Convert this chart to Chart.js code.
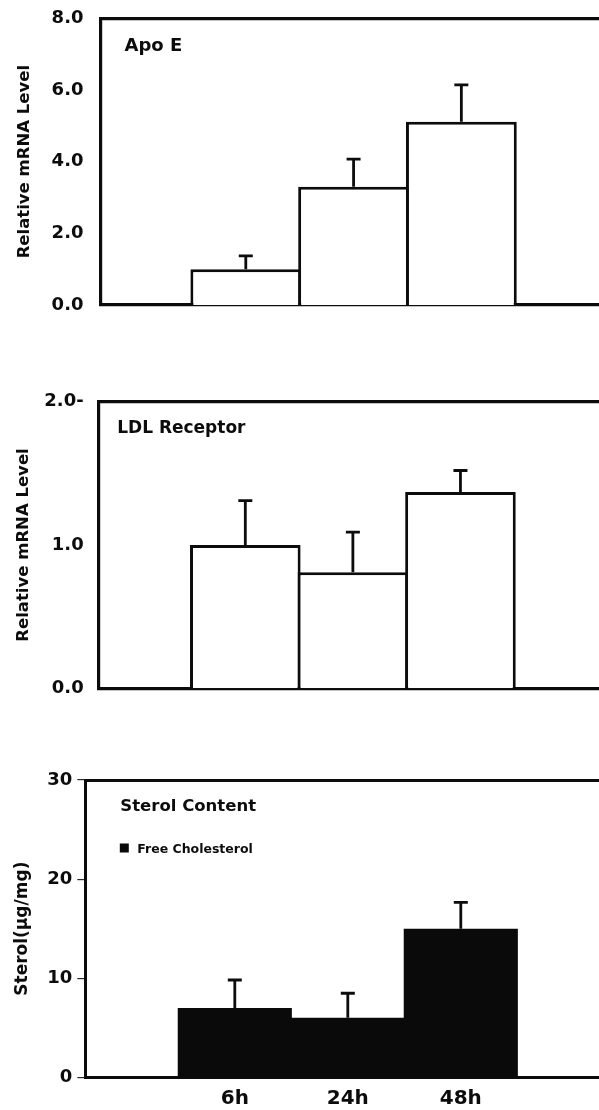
<!DOCTYPE html>
<html>
<head>
<meta charset="utf-8">
<script src="https://cdn.jsdelivr.net/npm/chart.js@4/dist/chart.umd.min.js"></script>
<style>
  html, body { margin: 0; padding: 0; background: #fff; overflow: hidden; }
  canvas { position: absolute; left: 0; }
</style>
</head>
<body>
<canvas id="apoe" width="599" height="330" style="top:0px"></canvas>
<canvas id="ldlr" width="599" height="340" style="top:370px"></canvas>
<canvas id="sterol" width="599" height="370" style="top:740px"></canvas>
<script>
// Time points after treatment
const timePoints = ['6h', '24h', '48h'];

// Apo E relative mRNA level (mean and SD)
const apoEValues = [1.0, 3.30, 5.11];
const apoEErrors = [0.37, 0.77, 1.03];
const apoETicks = ['0.0', '2.0', '4.0', '6.0', '8.0'];

// LDL receptor relative mRNA level (mean and SD)
const ldlrValues = [1.0, 0.81, 1.37];
const ldlrErrors = [0.31, 0.28, 0.15];
const ldlrTicks = ['0.0', '1.0', '2.0-'];

// Free cholesterol content, µg sterol per mg protein (mean and SD)
const cholValues = [7.0, 6.0, 15.0];
const cholErrors = [2.82, 2.48, 2.65];
const cholTicks = ['0', '10', '20', '30'];

const panelTitles = ['Apo E', 'LDL Receptor', 'Sterol Content'];
const mrnaAxisTitle = 'Relative mRNA Level';
const sterolAxisTitle = 'Sterol(µg/mg)';
const cholSeriesName = 'Free Cholesterol';

const INK = '#0c0c0c';
Chart.defaults.font.family = "'DejaVu Sans', 'Liberation Sans', sans-serif";
Chart.defaults.font.weight = 'bold';
Chart.defaults.color = INK;

// Upward SD whiskers with a cap, drawn from each bar top
const errorBarPlugin = {
  id: 'errorBars',
  afterDatasetsDraw(chart, args, opts) {
    const ctx = chart.ctx;
    const yScale = chart.scales.y;
    const meta = chart.getDatasetMeta(0);
    const data = chart.data.datasets[0].data;
    ctx.save();
    ctx.strokeStyle = opts.color;
    ctx.lineWidth = opts.width;
    ctx.lineCap = 'butt';
    meta.data.forEach((bar, i) => {
      const v = data[i].y;
      const yTop = yScale.getPixelForValue(v + opts.values[i]);
      ctx.beginPath();
      ctx.moveTo(bar.x, bar.y);
      ctx.lineTo(bar.x, yTop);
      ctx.moveTo(bar.x - opts.cap, yTop);
      ctx.lineTo(bar.x + opts.cap, yTop);
      ctx.stroke();
    });
    ctx.restore();
  }
};

// Panel heading and optional legend key inside the plot frame
const panelTextPlugin = {
  id: 'panelText',
  afterDraw(chart, args, opts) {
    const ctx = chart.ctx;
    const area = chart.chartArea;
    ctx.save();
    ctx.fillStyle = INK;
    ctx.textBaseline = 'alphabetic';
    ctx.textAlign = 'left';
    ctx.font = `bold ${opts.size}px 'DejaVu Sans'`;
    ctx.fillText(opts.text, area.left + opts.dx, area.top + opts.dy);
    if (opts.legend) {
      const ds = chart.data.datasets[0];
      const L = opts.legend;
      ctx.fillStyle = ds.backgroundColor;
      ctx.fillRect(area.left + L.boxX, area.top + L.boxY, L.box, L.box);
      ctx.fillStyle = INK;
      ctx.font = `bold ${L.size}px 'DejaVu Sans'`;
      ctx.fillText(ds.label, area.left + L.textX, area.top + L.textY);
    }
    ctx.restore();
  }
};

function panelConfig(p) {
  return {
    type: 'bar',
    data: {
      datasets: [{
        label: p.label,
        data: p.values.map((v, i) => ({ x: i + 1, y: v })),
        backgroundColor: p.fill,
        borderColor: INK,
        borderWidth: p.barBorder,
        borderSkipped: 'start',
        barPercentage: p.barPct,
        categoryPercentage: 1
      }]
    },
    options: {
      responsive: false,
      animation: false,
      devicePixelRatio: 1,
      layout: { padding: { left: p.padLeft, top: p.padTop, right: 0, bottom: p.padBottom } },
      plugins: {
        legend: { display: false },
        tooltip: { enabled: false },
        errorBars: { values: p.errors, color: INK, width: 2.8, cap: 7 },
        panelText: p.text
      },
      scales: {
        x: {
          type: 'linear',
          position: 'bottom',
          min: p.xMin,
          max: p.xMax,
          offset: false,
          afterBuildTicks: s => { s.ticks = timePoints.map((t, i) => ({ value: i + 1 })); },
          ticks: {
            display: p.showX,
            autoSkip: false,
            maxRotation: 0,
            padding: 9,
            color: INK,
            font: { size: 20, weight: 'bold' },
            callback: (v, i) => timePoints[i]
          },
          grid: { display: false, drawTicks: false },
          border: { display: true, color: INK, width: p.frame },
          afterFit: s => { s.height = p.xHeight; }
        },
        frameTop: {
          type: 'linear',
          position: 'top',
          min: p.xMin,
          max: p.xMax,
          ticks: { display: false },
          grid: { display: false, drawTicks: false },
          border: { display: true, color: INK, width: p.frame },
          afterFit: s => { s.height = 0; }
        },
        y: {
          min: 0,
          max: p.yMax,
          ticks: {
            stepSize: p.yStep,
            padding: p.tickPad,
            color: INK,
            font: { size: 18, weight: 'bold' },
            callback: (v, i) => p.yTicks[i]
          },
          grid: {
            display: p.tickMarks,
            drawOnChartArea: false,
            drawTicks: p.tickMarks,
            tickLength: 8,
            color: '#2a2a2a',
            lineWidth: 1.2
          },
          border: { display: true, color: INK, width: p.frame },
          title: {
            display: true,
            text: p.yTitle,
            color: INK,
            padding: 0,
            font: { size: p.titleSize, weight: 'bold' }
          },
          afterFit: s => {
            s.width = p.yWidth;
            // the layout padding already leaves room for the end labels
            s.paddingTop = 0;
            s.paddingBottom = 0;
          }
        }
      }
    },
    plugins: [errorBarPlugin, panelTextPlugin]
  };
}

new Chart(document.getElementById('apoe'), panelConfig({
  label: panelTitles[0],
  values: apoEValues, errors: apoEErrors,
  fill: '#ffffff', barBorder: 3, barPct: 1.028,
  xMin: -0.348, xMax: 4.277, showX: false, xHeight: 0,
  padLeft: 15, padTop: 18.3, padBottom: 25,
  yWidth: 85.5, yMax: 8, yStep: 2, yTicks: apoETicks, tickPad: 17, tickMarks: false,
  yTitle: mrnaAxisTitle, titleSize: 16.5, frame: 3.2,
  text: { text: panelTitles[0], size: 18, dx: 24, dy: 32.3 }
}));

new Chart(document.getElementById('ldlr'), panelConfig({
  label: panelTitles[1],
  values: ldlrValues, errors: ldlrErrors,
  fill: '#ffffff', barBorder: 3, barPct: 1.028,
  xMin: -0.363, xMax: 4.288, showX: false, xHeight: 0,
  padLeft: 13.5, padTop: 31.7, padBottom: 21.7,
  yWidth: 85.2, yMax: 2, yStep: 1, yTicks: ldlrTicks, tickPad: 15, tickMarks: false,
  yTitle: mrnaAxisTitle, titleSize: 16.5, frame: 3.2,
  text: { text: panelTitles[1], size: 17, dx: 18.5, dy: 31.6 }
}));

new Chart(document.getElementById('sterol'), panelConfig({
  label: cholSeriesName,
  values: cholValues, errors: cholErrors,
  fill: '#0a0a0a', barBorder: 0, barPct: 1.01,
  xMin: -0.323, xMax: 4.223, showX: true, xHeight: 32.7,
  padLeft: 12.5, padTop: 40, padBottom: 0,
  yWidth: 72.8, yMax: 30, yStep: 10, yTicks: cholTicks, tickPad: 5, tickMarks: true,
  yTitle: sterolAxisTitle, titleSize: 17, frame: 3,
  text: {
    text: panelTitles[2], size: 16.5, dx: 35, dy: 31,
    legend: { boxX: 34.5, boxY: 63.5, box: 9, textX: 52, textY: 72.7, size: 12.5 }
  }
}));
</script>
</body>
</html>
